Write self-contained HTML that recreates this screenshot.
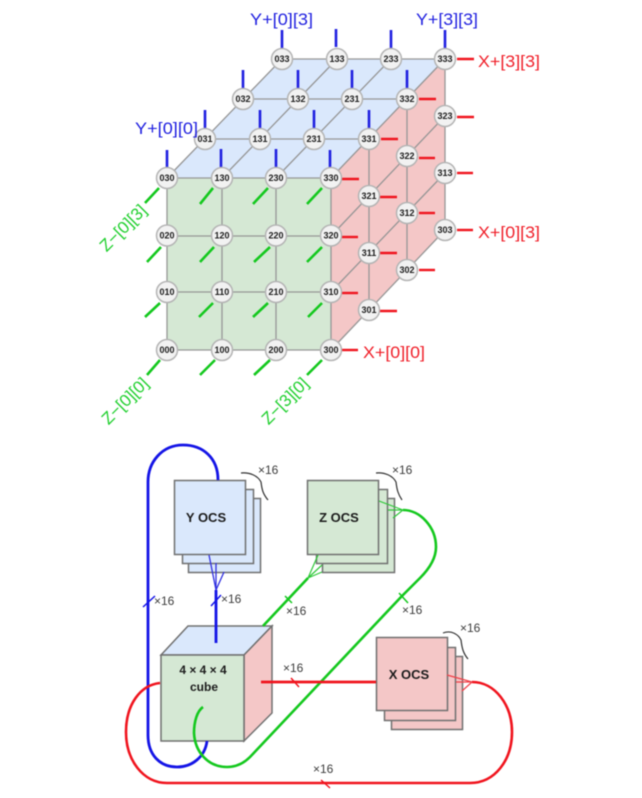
<!DOCTYPE html>
<html><head><meta charset="utf-8"><style>
html,body{margin:0;padding:0;background:#fff;width:642px;height:798px;overflow:hidden}
svg{display:block;filter:blur(0.55px)}
text{font-family:"Liberation Sans",sans-serif}
.n circle{fill:#f2f2f2;stroke:#b4b4b4;stroke-width:1.5}
.n text{font-size:9px;font-weight:bold;fill:#1c1c1c;text-anchor:middle}
.g line{stroke:#969696;stroke-width:1.3}
.b line{stroke:#1f1fe0;stroke-width:2.6}
.r line{stroke:#f0141e;stroke-width:2.4}
.z line{stroke:#14c81e;stroke-width:2.6}
.l{font-size:17px}
.m{font-size:12px;fill:#3c3c3c}
.o{font-size:13px;font-weight:bold;fill:#1c1c1c;text-anchor:middle}
.box{stroke:#707070;stroke-width:1.5}
</style></head><body>
<svg width="642" height="798" viewBox="0 0 642 798" xmlns="http://www.w3.org/2000/svg">
<polygon points="167,178 282,59 445,59 331,178" fill="#dae8fc"/>
<rect x="167" y="178" width="164" height="172" fill="#d5e8d4"/>
<polygon points="331,178 445,59 445,230 331,350" fill="#f4c7c7"/>
<g class="g">
<line x1="167" y1="178" x2="331" y2="178"/><line x1="167" y1="236" x2="331" y2="236"/><line x1="167" y1="292" x2="331" y2="292"/><line x1="167" y1="350" x2="331" y2="350"/>
<line x1="167" y1="178" x2="167" y2="350"/><line x1="222" y1="178" x2="222" y2="350"/><line x1="276" y1="178" x2="276" y2="350"/><line x1="331" y1="178" x2="331" y2="350"/>
<line x1="282" y1="59" x2="445" y2="59"/><line x1="243" y1="99" x2="407" y2="99"/><line x1="205" y1="139" x2="369" y2="139"/>
<line x1="167" y1="178" x2="282" y2="59"/><line x1="222" y1="178" x2="337" y2="59"/><line x1="276" y1="178" x2="391" y2="59"/><line x1="331" y1="178" x2="445" y2="59"/>
<line x1="445" y1="59" x2="445" y2="230"/><line x1="407" y1="99" x2="407" y2="270"/><line x1="369" y1="139" x2="369" y2="310"/>
<line x1="331" y1="236" x2="445" y2="116"/><line x1="331" y1="292" x2="445" y2="173"/><line x1="331" y1="350" x2="445" y2="230"/>
</g>
<g class="b">
<line x1="282" y1="30" x2="282" y2="48"/><line x1="336" y1="29" x2="336" y2="47"/><line x1="391" y1="30" x2="391" y2="48"/><line x1="445" y1="30" x2="445" y2="48"/>
<line x1="243" y1="70" x2="243" y2="88"/><line x1="298" y1="70" x2="298" y2="88"/><line x1="352" y1="70" x2="352" y2="88"/><line x1="407" y1="70" x2="407" y2="88"/>
<line x1="205" y1="110" x2="205" y2="128"/><line x1="260" y1="110" x2="260" y2="128"/><line x1="314" y1="110" x2="314" y2="128"/><line x1="369" y1="110" x2="369" y2="128"/>
<line x1="167" y1="150" x2="167" y2="168"/><line x1="221" y1="149" x2="221" y2="167"/><line x1="276" y1="149" x2="276" y2="167"/><line x1="330" y1="150" x2="330" y2="168"/>
</g>
<g class="r">
<line x1="457" y1="59" x2="474" y2="59"/><line x1="419" y1="99" x2="436" y2="99"/><line x1="381" y1="139" x2="398" y2="139"/><line x1="342" y1="179" x2="359" y2="179"/>
<line x1="457" y1="117" x2="474" y2="117"/><line x1="457" y1="173" x2="473" y2="173"/><line x1="457" y1="230" x2="473" y2="230"/>
<line x1="419" y1="158" x2="435" y2="158"/><line x1="419" y1="213" x2="435" y2="213"/><line x1="419" y1="270" x2="435" y2="270"/>
<line x1="380" y1="197" x2="397" y2="197"/><line x1="380" y1="253" x2="397" y2="253"/><line x1="380" y1="311" x2="397" y2="311"/>
<line x1="342" y1="237" x2="358" y2="237"/><line x1="342" y1="293" x2="358" y2="293"/><line x1="342" y1="350" x2="358" y2="350"/>
</g>
<g class="z">
<line x1="159" y1="188" x2="145" y2="203"/><line x1="213" y1="188" x2="200" y2="204"/><line x1="268" y1="188" x2="253" y2="204"/><line x1="322" y1="188" x2="307" y2="204"/>
<line x1="161" y1="247" x2="147" y2="262"/><line x1="214" y1="247" x2="200" y2="262"/><line x1="270" y1="247" x2="254" y2="262"/><line x1="322" y1="247" x2="307" y2="262"/>
<line x1="160" y1="303" x2="145" y2="317"/><line x1="213" y1="303" x2="199" y2="317"/><line x1="268" y1="303" x2="253" y2="317"/><line x1="322" y1="303" x2="308" y2="317"/>
<line x1="160" y1="360" x2="147" y2="375"/><line x1="215" y1="360" x2="200" y2="375"/><line x1="270" y1="360" x2="254" y2="375"/><line x1="322" y1="360" x2="307" y2="375"/>
</g>
<g class="n">
<circle cx="282" cy="59" r="10.500"/><text x="282" y="62">033</text>
<circle cx="337" cy="59" r="10.500"/><text x="337" y="62">133</text>
<circle cx="391" cy="59" r="10.500"/><text x="391" y="62">233</text>
<circle cx="445" cy="59" r="10.500"/><text x="445" y="62">333</text>
<circle cx="243" cy="99" r="10.500"/><text x="243" y="102">032</text>
<circle cx="298" cy="99" r="10.500"/><text x="298" y="102">132</text>
<circle cx="352" cy="99" r="10.500"/><text x="352" y="102">231</text>
<circle cx="407" cy="99" r="10.500"/><text x="407" y="102">332</text>
<circle cx="205" cy="139" r="10.500"/><text x="205" y="142">031</text>
<circle cx="260" cy="139" r="10.500"/><text x="260" y="142">131</text>
<circle cx="314" cy="139" r="10.500"/><text x="314" y="142">231</text>
<circle cx="369" cy="139" r="10.500"/><text x="369" y="142">331</text>
<circle cx="445" cy="116" r="10.500"/><text x="445" y="119">323</text>
<circle cx="445" cy="173" r="10.500"/><text x="445" y="176">313</text>
<circle cx="445" cy="230" r="10.500"/><text x="445" y="233">303</text>
<circle cx="407" cy="156" r="10.500"/><text x="407" y="159">322</text>
<circle cx="407" cy="213" r="10.500"/><text x="407" y="216">312</text>
<circle cx="407" cy="270" r="10.500"/><text x="407" y="273">302</text>
<circle cx="369" cy="196" r="10.500"/><text x="369" y="199">321</text>
<circle cx="369" cy="253" r="10.500"/><text x="369" y="256">311</text>
<circle cx="369" cy="310" r="10.500"/><text x="369" y="313">301</text>
<circle cx="167" cy="178" r="10.500"/><text x="167" y="181">030</text>
<circle cx="222" cy="178" r="10.500"/><text x="222" y="181">130</text>
<circle cx="276" cy="178" r="10.500"/><text x="276" y="181">230</text>
<circle cx="331" cy="178" r="10.500"/><text x="331" y="181">330</text>
<circle cx="167" cy="235.500" r="10.500"/><text x="167" y="238.500">020</text>
<circle cx="222" cy="235.500" r="10.500"/><text x="222" y="238.500">120</text>
<circle cx="276" cy="235.500" r="10.500"/><text x="276" y="238.500">220</text>
<circle cx="331" cy="235.500" r="10.500"/><text x="331" y="238.500">320</text>
<circle cx="167" cy="292" r="10.500"/><text x="167" y="295">010</text>
<circle cx="222" cy="292" r="10.500"/><text x="222" y="295">110</text>
<circle cx="276" cy="292" r="10.500"/><text x="276" y="295">210</text>
<circle cx="331" cy="292" r="10.500"/><text x="331" y="295">310</text>
<circle cx="167" cy="350" r="10.500"/><text x="167" y="353">000</text>
<circle cx="222" cy="350" r="10.500"/><text x="222" y="353">100</text>
<circle cx="276" cy="350" r="10.500"/><text x="276" y="353">200</text>
<circle cx="331" cy="350" r="10.500"/><text x="331" y="353">300</text>
</g>
<g class="l" fill="#2222e0">
<text x="250" y="25" textLength="63" lengthAdjust="spacingAndGlyphs">Y+[0][3]</text>
<text x="416" y="25" textLength="62" lengthAdjust="spacingAndGlyphs">Y+[3][3]</text>
<text x="135" y="134" textLength="63" lengthAdjust="spacingAndGlyphs">Y+[0][0]</text>
</g>
<g class="l" fill="#f0202a">
<text x="478" y="67" textLength="62" lengthAdjust="spacingAndGlyphs">X+[3][3]</text>
<text x="478" y="238" textLength="62" lengthAdjust="spacingAndGlyphs">X+[0][3]</text>
<text x="363" y="358" textLength="62" lengthAdjust="spacingAndGlyphs">X+[0][0]</text>
</g>
<g class="l" fill="#22d030" text-anchor="middle">
<text transform="translate(127,232) rotate(-45)" x="0" y="0">Z−[0][3]</text>
<text transform="translate(129,405) rotate(-45)" x="0" y="0">Z−[0][0]</text>
<text transform="translate(289,405) rotate(-45)" x="0" y="0">Z−[3][0]</text>
</g>

<!-- cube -->
<polygon points="161,655 188,626 272,626 244,655" fill="#dae8fc" stroke="#707070" stroke-width="1.5"/>
<polygon points="244,655 272,626 272,713 244,741" fill="#f4c7c7" stroke="#707070" stroke-width="1.5"/>
<rect x="161" y="655" width="83" height="86" fill="#d5e8d4" stroke="#707070" stroke-width="1.5"/>
<text class="o" x="203" y="674" style="font-size:12px">4 × 4 × 4</text>
<text class="o" x="204" y="691" style="font-size:12px">cube</text>

<!-- OCS stacks -->
<rect class="box" x="188.500" y="498.500" width="72" height="74" fill="#dae8fc"/>
<rect class="box" x="182.500" y="489.500" width="71" height="74" fill="#dae8fc"/>
<rect class="box" x="174.500" y="480.500" width="71" height="74" fill="#dae8fc"/>
<text class="o" x="206" y="522">Y OCS</text>

<rect class="box" x="322.500" y="498.500" width="72" height="74" fill="#d5e8d4"/>
<rect class="box" x="316.500" y="489.500" width="71" height="74" fill="#d5e8d4"/>
<rect class="box" x="307.500" y="480.500" width="71" height="74" fill="#d5e8d4"/>
<text class="o" x="339" y="522">Z OCS</text>

<rect class="box" x="391.500" y="656.500" width="71" height="73" fill="#f4c7c7"/>
<rect class="box" x="384.500" y="647.500" width="71" height="73" fill="#f4c7c7"/>
<rect class="box" x="376.500" y="637.500" width="71" height="73" fill="#f4c7c7"/>
<text class="o" x="409" y="679">X OCS</text>

<g fill="none">
<!-- blue -->
<path d="M218,480 C218,458 203,445 183,445 C162,445 148,462 148,482 L148,735 C148,755 160,767 177,767 C192,767 205,757 207,741" stroke="#1414e6" stroke-width="2.8"/>
<path d="M216,590 L216,643" stroke="#1414e6" stroke-width="2.8"/>
<path d="M209,555 L216,590 M224,572 L216,590 M216,563 L216,590" stroke="#3030e0" stroke-width="1.3"/>
<path d="M143,607 L155,596 M211,606 L221,595" stroke="#1414e6" stroke-width="1.5"/>
<!-- green -->
<path d="M263,626 L308,578" stroke="#14c81e" stroke-width="2.6"/>
<path d="M318,555 L308,578 M322,565 L308,578 M322,572 L308,578" stroke="#30c83a" stroke-width="1.2"/>
<path d="M203,707 C197,711 194,722 194,733 C195,752 208,767 227,767 C236,767 244,763 250,757 L401,597 L420,578 C431,567 436,557 436,547 C436,527 420,510 403,510" stroke="#14c81e" stroke-width="2.6"/>
<path d="M379,501 L403,510 M388,510 L403,510 M393,518 L403,510" stroke="#30c83a" stroke-width="1.2"/>
<path d="M285,596 L292,603 M399,593 L408,603" stroke="#14c81e" stroke-width="1.5"/>
<!-- red -->
<path d="M261,682 L376,682" stroke="#f0141e" stroke-width="2.8"/>
<path d="M472,682 C495,682 512,705 512,732 C512,760 495,783 470,783 L167,783 C143,783 126,760 126,732 C126,705 140,685 160,683" stroke="#f0141e" stroke-width="2.6"/>
<path d="M447,675 L472,682 M456,682 L472,682 M462,691 L472,682" stroke="#f04048" stroke-width="1.2"/>
<path d="M291,678 L299,687 M321,780 L330,788" stroke="#f0141e" stroke-width="1.5"/>
<!-- braces -->
<path d="M241,473 C250,472 258,476 261,482 C262,490 263,494 268,500" stroke="#333" stroke-width="1.2"/>
<path d="M376,473 C385,472 393,476 396,482 C397,490 398,494 402,500" stroke="#333" stroke-width="1.2"/>
<path d="M443,633 C451,630 458,634 461,640 C462,648 463,653 468,659" stroke="#333" stroke-width="1.2"/>
</g>
<g class="m">
<text x="154" y="605">×16</text>
<text x="221" y="603">×16</text>
<text x="286" y="615">×16</text>
<text x="402" y="614">×16</text>
<text x="283" y="672">×16</text>
<text x="313" y="773">×16</text>
<text x="258" y="474">×16</text>
<text x="392" y="474">×16</text>
<text x="460" y="632">×16</text>
</g>
</svg>
</body></html>
